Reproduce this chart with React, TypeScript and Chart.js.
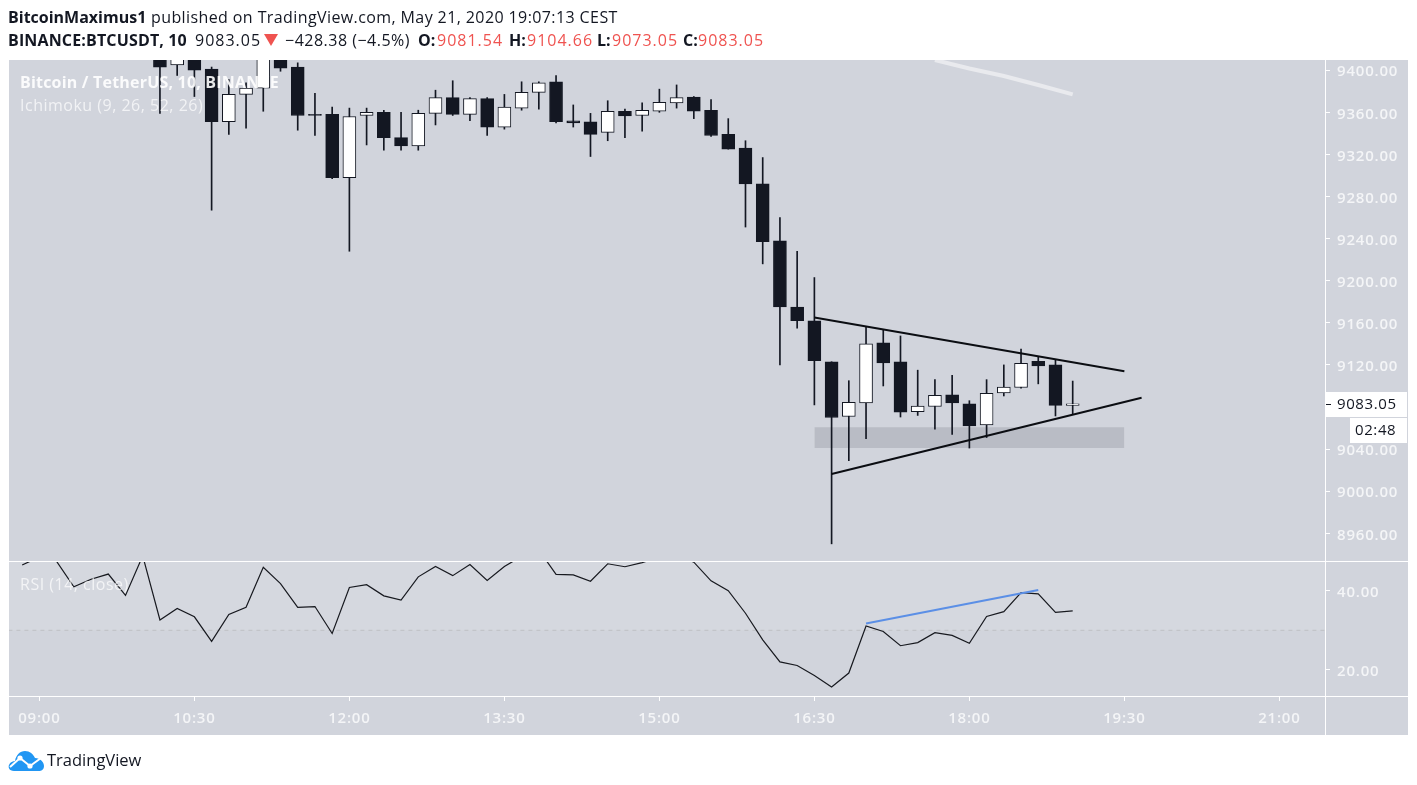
import { useEffect, useRef } from "react";
import { Chart, registerables } from "chart.js";

Chart.register(...registerables);

const candleTimes = [
  "10:10", "10:20", "10:30", "10:40", "10:50", "11:00", "11:10", "11:20", "11:30",
  "11:40", "11:50", "12:00", "12:10", "12:20", "12:30", "12:40", "12:50", "13:00",
  "13:10", "13:20", "13:30", "13:40", "13:50", "14:00", "14:10", "14:20", "14:30",
  "14:40", "14:50", "15:00", "15:10", "15:20", "15:30", "15:40", "15:50", "16:00",
  "16:10", "16:20", "16:30", "16:40", "16:50", "17:00", "17:10", "17:20", "17:30",
  "17:40", "17:50", "18:00", "18:10", "18:20", "18:30", "18:40", "18:50", "19:00",
];
const opens = [
  9425, 9405, 9420, 9401, 9351, 9377, 9383, 9428, 9403,
  9358, 9358, 9298, 9357, 9360, 9336, 9328, 9359, 9374,
  9358, 9373, 9346, 9364, 9379, 9389, 9352, 9351, 9341,
  9361, 9357, 9361, 9369, 9374.5, 9362, 9339, 9326, 9292,
  9238, 9175, 9162, 9123, 9071, 9084, 9141, 9123, 9075.5,
  9080.5, 9091.5, 9083, 9063, 9093.5, 9098.5, 9123.5, 9120, 9081.54,
];
const highs = [
  9432, 9420, 9426, 9403, 9391, 9388, 9435, 9432, 9407,
  9378, 9365, 9364, 9364, 9362, 9360, 9362, 9381, 9390,
  9374, 9374, 9377, 9389, 9389, 9395, 9367, 9359, 9371,
  9363, 9369, 9382, 9386, 9375, 9372, 9354, 9333, 9317,
  9260, 9228, 9203, 9123, 9105, 9156, 9153, 9147.5, 9115,
  9106, 9110, 9086, 9106, 9120, 9135, 9128, 9125, 9104.66,
];
const lows = [
  9359, 9395, 9375, 9267, 9339, 9345, 9361, 9399, 9343,
  9338, 9297, 9228, 9329, 9324, 9324, 9324, 9348, 9357,
  9352, 9338, 9344, 9362, 9363, 9350, 9346, 9318, 9333,
  9336, 9342, 9360, 9364, 9354, 9337, 9325, 9251, 9216,
  9120, 9155, 9082, 8950, 9029, 9050, 9100, 9070.5, 9072,
  9059, 9054, 9041, 9051, 9090.5, 9098, 9102, 9071.5, 9073.05,
];
const closes = [
  9403, 9416, 9400, 9351, 9377, 9383, 9428, 9402, 9357,
  9357, 9298, 9356, 9360, 9336, 9328, 9359, 9374, 9358,
  9373, 9346, 9365, 9379, 9388, 9351, 9350, 9339, 9361,
  9356.5, 9362, 9369.5, 9374, 9361, 9338, 9325, 9292, 9237,
  9175, 9162, 9124, 9070, 9084.5, 9140, 9122, 9075, 9081,
  9091, 9084, 9062, 9093, 9099, 9121.5, 9119, 9081.5, 9083.05,
];

const rsiTimes = [
  "08:50", "09:00", "09:10", "09:20", "09:30", "09:40", "09:50", "10:00", "10:10",
  "10:20", "10:30", "10:40", "10:50", "11:00", "11:10", "11:20", "11:30", "11:40",
  "11:50", "12:00", "12:10", "12:20", "12:30", "12:40", "12:50", "13:00", "13:10",
  "13:20", "13:30", "13:40", "13:50", "14:00", "14:10", "14:20", "14:30", "14:40",
  "14:50", "15:00", "15:10", "15:20", "15:30", "15:40", "15:50", "16:00", "16:10",
  "16:20", "16:30", "16:40", "16:50", "17:00", "17:10", "17:20", "17:30", "17:40",
  "17:50", "18:00", "18:10", "18:20", "18:30", "18:40", "18:50", "19:00",
];
const rsiValues = [
  46.5, 48.5, 47.4, 41, 42.9, 44.2, 38.8, 48.8, 32.6,
  35.5, 33.4, 27.2, 34, 35.8, 45.9, 41.8, 35.8, 36,
  29.2, 40.8, 41.5, 38.7, 37.6, 43.5, 46.1, 43.8, 46.6,
  42.6, 46.1, 48.7, 50.3, 44.1, 44, 42.4, 46.8, 46.05,
  47.1, 48.5, 49, 47.2, 42.5, 40, 34.3, 27.6, 22,
  21.1, 18.6, 15.7, 19.2, 31.1, 29.7, 26.1, 26.9, 29.4,
  28.7, 26.7, 33.5, 34.7, 39.5, 39.2, 34.5, 34.9,
];

const timeTickLabels = ["09:00", "10:30", "12:00", "13:30", "15:00", "16:30", "18:00", "19:30", "21:00"];
const priceTicks = [9400, 9360, 9320, 9280, 9240, 9200, 9160, 9120, 9040, 9000, 8960];
const rsiTicks = [40, 20];

const upperTrendTimes = ["16:30", "19:30"];
const upperTrendPrices = [9165, 9114];
const lowerTrendTimes = ["16:40", "19:40"];
const lowerTrendPrices = [9016.4, 9088.8];
const zoneTimes = ["16:30", "19:30"];
const zoneTop = 9060.7;
const zoneBottom = 9041;
const cloudLineTimes = ["17:40", "18:00", "18:20", "18:40", "19:00"];
const cloudLinePrices = [9409.7, 9401.6, 9394.5, 9385.9, 9377.1];
const rsiTrendTimes = ["17:00", "18:40"];
const rsiTrendValues = [31.7, 40.2];
const rsiMidLevel = 30;

const lastPrice = "9083.05";
const countdown = "02:48";

const DARK = "#131722";
const PANE = "#d1d4dc";
const AXIS_FONT = "'Open Sans', sans-serif";

const toMinutes = (s: string) => {
  const [h, m] = s.split(":").map(Number);
  return h * 60 + m;
};
const pairs = (xs: string[], ys: number[]) => xs.map((t, i) => ({ x: toMinutes(t), y: ys[i] }));

const framePlugin = {
  id: "frame",
  beforeDraw(chart: any) {
    const { ctx } = chart;
    // axis labels in the reference run wider than Open Sans
    ctx.letterSpacing = "0.8px";
    ctx.save();
    ctx.fillStyle = "#fff";
    ctx.fillRect(0, 0, 1417, 785);
    ctx.fillStyle = PANE;
    ctx.fillRect(9, 60, 1399, 675);
    ctx.restore();
  },
  afterDraw(chart: any) {
    const { ctx, scales } = chart;
    ctx.save();
    ctx.fillStyle = "#fff";
    ctx.fillRect(9, 561, 1399, 1);
    ctx.fillRect(9, 696, 1399, 1);
    ctx.fillRect(1325, 60, 1, 675);

    // watermark texts sit above the candles
    ctx.textBaseline = "middle";
    ctx.letterSpacing = "0.2px";
    ctx.font = `700 16px ${AXIS_FONT}`;
    ctx.fillStyle = "rgba(255,255,255,0.9)";
    ctx.fillText("Bitcoin / TetherUS, 10, BINANCE", 20, 83);
    ctx.letterSpacing = "0.5px";
    ctx.font = `400 16px ${AXIS_FONT}`;
    ctx.fillStyle = "rgba(255,255,255,0.7)";
    ctx.fillText("Ichimoku (9, 26, 52, 26)", 20, 106);
    ctx.fillText("RSI (14, close)", 20, 585);

    // last price + countdown boxes on the right scale
    const py = Math.round(scales.y.getPixelForValue(Number(lastPrice)));
    ctx.fillStyle = "#fff";
    ctx.fillRect(1326, py - 12, 81, 25);
    ctx.fillRect(1350, py + 14, 57, 25);
    ctx.fillStyle = DARK;
    ctx.fillRect(1326, py, 5, 1);
    ctx.letterSpacing = "0.6px";
    ctx.font = `400 15px ${AXIS_FONT}`;
    ctx.fillText(lastPrice, 1337, py + 1);
    ctx.fillText(countdown, 1355, py + 27);
    ctx.restore();
  },
};

// blank first line pushes the label down half a line height, Open Sans sits high in the box
const valueTicks = {
  autoSkip: false,
  padding: 7,
  color: "#f4f5f7",
  font: { family: AXIS_FONT, size: 15, weight: 600, lineHeight: "4px" },
  callback: (v: any) => ["", Number(v).toFixed(2)],
};
const tickGrid = { offset: false, drawOnChartArea: false, drawTicks: true, tickLength: 5, color: "#fff" };

function BtcChart() {
  const canvasRef = useRef<HTMLCanvasElement | null>(null);

  useEffect(() => {
    if (!canvasRef.current) return;
    const times = candleTimes.map(toMinutes);
    const fills = closes.map((c, i) => (c >= opens[i] ? "#ffffff" : DARK));

    const chart = new Chart(canvasRef.current, {
      type: "bar",
      plugins: [framePlugin],
      data: {
        datasets: [
          {
            type: "line",
            data: [
              { x: toMinutes(zoneTimes[0]), y: zoneTop },
              { x: toMinutes(zoneTimes[1]), y: zoneTop },
            ],
            yAxisID: "y",
            borderWidth: 0,
            pointRadius: 0,
            backgroundColor: "#b9bcc5",
            fill: { target: { value: zoneBottom } },
            order: 6,
          },
          {
            data: times.map((t, i) => ({ x: t, y: [lows[i], highs[i]] })),
            yAxisID: "y",
            backgroundColor: DARK,
            barThickness: 1,
            grouped: false,
            order: 5,
          },
          {
            data: times.map((t, i) => ({ x: t, y: [opens[i], closes[i]] })),
            yAxisID: "y",
            backgroundColor: fills,
            borderColor: DARK,
            borderWidth: 1,
            borderSkipped: false,
            barThickness: 13,
            grouped: false,
            order: 4,
          },
          {
            type: "line",
            data: pairs(cloudLineTimes, cloudLinePrices),
            yAxisID: "y",
            borderColor: "#e9eaee",
            borderWidth: 4,
            pointRadius: 0,
            order: 3,
          },
          {
            type: "line",
            data: pairs(upperTrendTimes, upperTrendPrices),
            yAxisID: "y",
            borderColor: "#0b0d12",
            borderWidth: 2,
            pointRadius: 0,
            order: 1,
          },
          {
            type: "line",
            data: pairs(lowerTrendTimes, lowerTrendPrices),
            yAxisID: "y",
            borderColor: "#0b0d12",
            borderWidth: 2,
            pointRadius: 0,
            order: 1,
          },
          {
            type: "line",
            data: [
              { x: 522, y: rsiMidLevel },
              { x: 1287, y: rsiMidLevel },
            ],
            yAxisID: "rsi",
            borderColor: "#bfc0c4",
            borderWidth: 1,
            borderDash: [4, 4],
            pointRadius: 0,
            backgroundColor: "rgba(255,255,255,0.1)",
            fill: "end",
            order: 3,
          },
          {
            type: "line",
            data: pairs(rsiTimes, rsiValues),
            yAxisID: "rsi",
            borderColor: "#17191f",
            borderWidth: 1.2,
            pointRadius: 0,
            order: 2,
          },
          {
            type: "line",
            data: pairs(rsiTrendTimes, rsiTrendValues),
            yAxisID: "rsi",
            borderColor: "#5b8fe6",
            borderWidth: 2,
            pointRadius: 0,
            order: 1,
          },
        ],
      } as any,
      options: {
        responsive: false,
        animation: false,
        events: [],
        layout: { padding: { top: 60, left: 9, right: 9, bottom: 50 } },
        plugins: { legend: { display: false }, tooltip: { enabled: false } },
        scales: {
          x: {
            type: "linear",
            offset: false,
            min: 522.35,
            max: 1286.5,
            border: { display: false },
            grid: tickGrid,
            afterFit: (s: any) => {
              s.height = 39;
            },
            afterBuildTicks: (s: any) => {
              s.ticks = timeTickLabels.map((l) => ({ value: toMinutes(l) }));
            },
            ticks: {
              autoSkip: false,
              maxRotation: 0,
              padding: 9,
              color: "#f4f5f7",
              font: { family: AXIS_FONT, size: 15, weight: 600 },
              callback: (v: any) =>
                timeTickLabels.find((l) => toMinutes(l) === Number(v)) ?? "",
            },
          },
          y: {
            type: "linear",
            position: "right",
            stack: "panes",
            stackWeight: 501,
            min: 8933.7,
            max: 9409.7,
            border: { display: false },
            grid: tickGrid,
            afterFit: (s: any) => {
              s.width = 83;
            },
            afterBuildTicks: (s: any) => {
              s.ticks = priceTicks.map((value) => ({ value }));
            },
            ticks: valueTicks,
          },
          rsi: {
            type: "linear",
            position: "right",
            stack: "panes",
            stackWeight: 135,
            min: 13.4,
            max: 47.5,
            border: { display: false },
            grid: tickGrid,
            afterFit: (s: any) => {
              s.width = 83;
            },
            afterBuildTicks: (s: any) => {
              s.ticks = rsiTicks.map((value) => ({ value }));
            },
            ticks: valueTicks,
          },
        },
      },
    } as any);

    return () => chart.destroy();
  }, []);

  return <canvas ref={canvasRef} width={1417} height={785} style={{ display: "block" }} />;
}

const headerFont: React.CSSProperties = {
  position: "absolute",
  fontFamily: "'Open Sans', sans-serif",
  fontSize: 16,
  lineHeight: "22px",
  color: DARK,
  whiteSpace: "nowrap",
};

function Label({ x, y, bold, red, spacing, children }: any) {
  return (
    <span
      style={{
        ...headerFont,
        left: x,
        top: y,
        fontWeight: bold ? 700 : 400,
        color: red ? "#ef5350" : DARK,
        letterSpacing: spacing ?? 0,
      }}
    >
      {children}
    </span>
  );
}

export default function App() {
  return (
    <div style={{ position: "fixed", left: 0, top: 0, width: 1417, height: 785, overflow: "hidden" }}>
      <BtcChart />
      <Label x={8} y={6} bold>BitcoinMaximus1</Label>
      <Label x={151} y={6} spacing={0.4}>published on TradingView.com, May 21, 2020 19:07:13 CEST</Label>
      <Label x={8} y={29} bold spacing={0.15}>BINANCE:BTCUSDT, 10</Label>
      <Label x={195} y={29} spacing={1}>9083.05</Label>
      <div
        style={{
          position: "absolute",
          left: 264,
          top: 34,
          width: 14,
          height: 12,
          background: "#ef5350",
          clipPath: "polygon(0 0, 100% 0, 50% 100%)",
        }}
      />
      <Label x={285} y={29} spacing={0.5}>−428.38 (−4.5%)</Label>
      <Label x={418} y={29} bold>O:</Label>
      <Label x={437} y={29} red spacing={1}>9081.54</Label>
      <Label x={509} y={29} bold>H:</Label>
      <Label x={527} y={29} red spacing={1}>9104.66</Label>
      <Label x={597} y={29} bold>L:</Label>
      <Label x={612} y={29} red spacing={1}>9073.05</Label>
      <Label x={683} y={29} bold>C:</Label>
      <Label x={698} y={29} red spacing={1}>9083.05</Label>
      <svg
        style={{ position: "absolute", left: 8, top: 750 }}
        width={36}
        height={22}
        viewBox="0 0 36 22"
      >
        <path
          d="M6 21 C1 21 0 17 1 15 C2 12 5 11 7 11 C8 5 12 1 17 1 C22 1 25 4 27 8 C32 8 36 12 36 16 C36 20 33 21 31 21 Z"
          fill="#2196f3"
        />
        <polyline points="2,17 12,8 22,16 33,8" fill="none" stroke="#fff" strokeWidth={2} />
        <circle cx={12} cy={8} r={2.6} fill="#fff" />
        <circle cx={22} cy={16} r={2.6} fill="#fff" />
      </svg>
      <span style={{ ...headerFont, left: 47, top: 749, fontSize: 16.5 }}>TradingView</span>
    </div>
  );
}
